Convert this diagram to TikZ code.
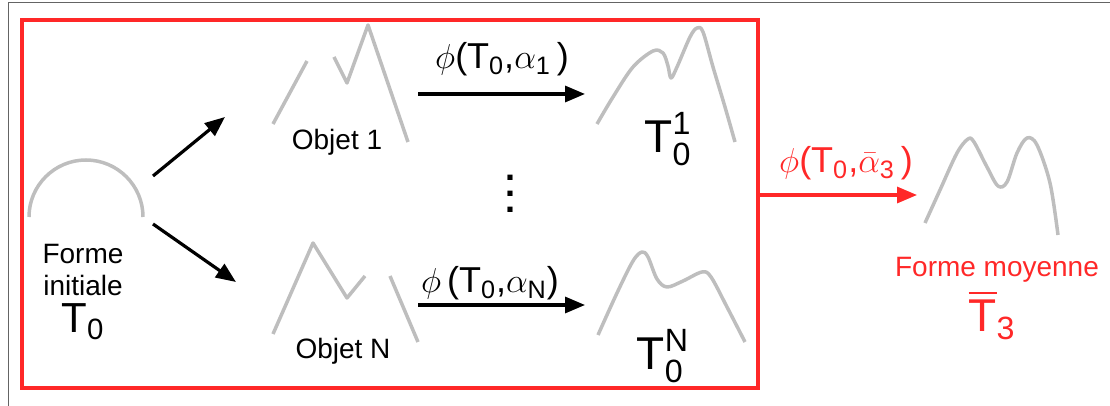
\documentclass[tikz,border=0pt]{standalone}
\usepackage{amsmath}
\usepackage{fontspec}
\setmainfont{Liberation Sans}
\usepackage{tikz}
\usetikzlibrary{arrows.meta}
\definecolor{boxred}{RGB}{255,40,40}
\definecolor{shapegray}{RGB}{190,190,190}
\definecolor{framegray}{RGB}{100,100,100}

\begin{document}
\begin{tikzpicture}[x=0.5pt, y=0.5pt,
    forme/.style={shapegray, line width=1.75pt, line join=round},
    fleche/.style={line width=1.6pt, -{Triangle[length=10pt,width=8pt]}},
    petit/.style={anchor=base, inner sep=0pt, font=\fontsize{14}{17}\selectfont},
    moyen/.style={anchor=base, inner sep=0pt, font=\fontsize{18}{21}\selectfont},
    grand/.style={anchor=base, inner sep=0pt, font=\fontsize{23}{27}\selectfont}]
    \useasboundingbox (0,0) rectangle (1110,-406);
    \draw[framegray, line width=0.5pt] (8,-406) -- (8,-3) -- (1110,-3);
    \draw[boxred, line width=1.6pt] (22,-20) rectangle (758,-388);
    % forme initiale
    \draw[forme] (29,-217) arc[start angle=180, end angle=0, radius=57];
    \node[petit, align=center] (forme) at (83,-296) {Forme\\[-1pt]initiale};
    \node[grand, font=\fontsize{21}{25}\selectfont] (t0) at (83,-333) {T$_{\text{0}}$};
    % objets
    \draw[forme] (273,-124) -- (307,-61);
    \draw[forme] (334,-57) -- (347,-83) -- (368,-25) -- (408,-142);
    \node[petit] (obj1) at (337,-150) {Objet 1};
    \draw[forme] (273,-334) -- (313,-243) -- (347,-298) -- (365,-276);
    \draw[forme] (390,-276) -- (418,-342);
    \node[petit] (objN) at (343,-359) {Objet N};
    % deformations
    \draw[forme] plot[smooth, tension=0.55] coordinates {(597,-124) (613,-97) (633,-67) (653,-51) (663,-53) (668,-66) (671,-78) (677,-67) (690,-37) (697,-28) (703,-32) (713,-67) (725,-107) (735,-142)};
    \node[grand] (t01) at (668,-153) {T$^{\text{1}}_{\text{0}}$};
    \draw[forme] plot[smooth, tension=0.55] coordinates {(598,-335) (617,-293) (633,-261) (642,-252) (648,-257) (657,-279) (667,-287) (683,-281) (702,-272) (711,-277) (727,-307) (745,-342)};
    \node[grand] (t0N) at (663,-370) {T$^{\text{N}}_{\text{0}}$};
    \node[font=\bfseries\fontsize{18}{8}\selectfont, align=center, inner sep=0pt] (dots) at (510,-194) {.\\.\\.};
    % fleches
    \coordinate (init-haut) at (153,-176); \coordinate (obj1-in) at (225,-117);
    \coordinate (init-bas) at (153,-224); \coordinate (objN-in) at (236,-282);
    \draw[fleche] (init-haut) -- (obj1-in);
    \draw[fleche] (init-bas) -- (objN-in);
    \coordinate (obj1-out) at (418,-94); \coordinate (t01-in) at (585,-94);
    \coordinate (objN-out) at (418,-305); \coordinate (t0N-in) at (585,-305);
    \draw[fleche] (obj1-out) -- (t01-in);
    \draw[fleche] (objN-out) -- (t0N-in);
    \node[moyen] (phi1) at (502,-69) {$\phi$(T$_{\text{0}}$,$\alpha_{\text{1}}$\,)};
    \node[moyen] (phiN) at (490,-293) {$\phi$\,(T$_{\text{0}}$,$\alpha_{\text{N}}$)};
    % forme moyenne
    \coordinate (box-out) at (758,-195); \coordinate (moy-in) at (917,-195);
    \draw[fleche, boxred] (box-out) -- (moy-in);
    \node[moyen, text=boxred] (phibar) at (846,-173) {$\phi$(T$_{\text{0}}$,$\bar{\alpha}_{\text{3}}$\,)};
    \draw[forme] plot[smooth, tension=0.55] coordinates {(925,-223) (940,-190) (957,-153) (968,-139) (974,-142) (987,-167) (998,-186) (1007,-182) (1017,-153) (1027,-138) (1037,-145) (1050,-183) (1058,-235)};
    \node[petit, text=boxred] (moy) at (997,-277) {Forme moyenne};
    \node[grand, text=boxred] (t3) at (992,-332) {$\overline{\text{T}}_{\text{3}}$};
\end{tikzpicture}
\end{document}
